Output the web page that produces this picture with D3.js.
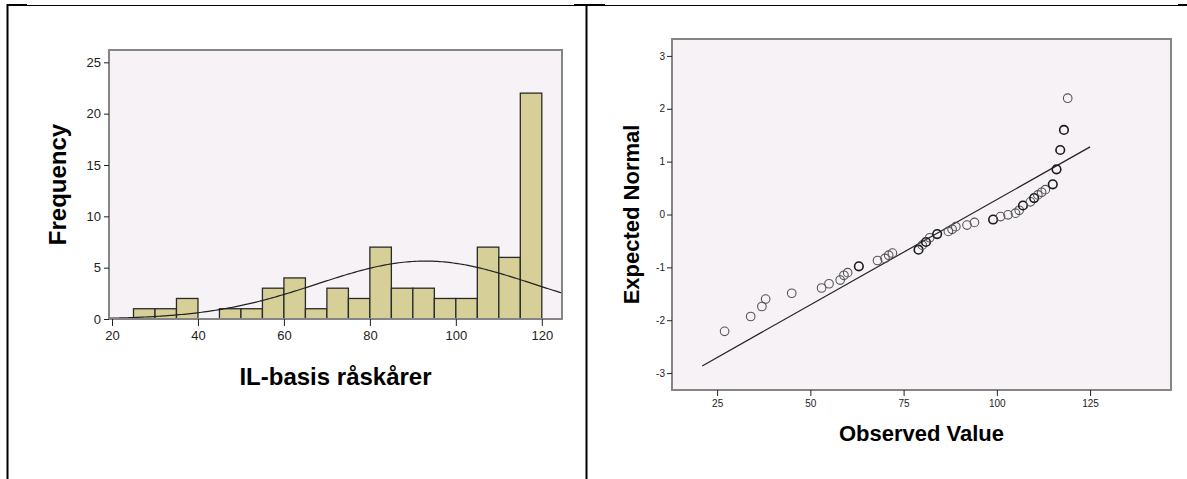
<!DOCTYPE html>
<html>
<head>
<meta charset="utf-8">
<script src="https://cdn.jsdelivr.net/npm/d3@7"></script>
<style>
  body { margin: 0; background: #fff; }
  svg { display: block; font-family: "Liberation Sans", Arial, sans-serif; }
  .tick text { fill: #222; }
  .tick line { stroke: #222; }
</style>
</head>
<body>
<div id="chart"></div>
<script>
// histogram bins (lower edge, width 5) and counts
const binStarts = [25, 30, 35, 40, 45, 50, 55, 60, 65, 70, 75, 80, 85, 90, 95, 100, 105, 110, 115];
const binCounts = [1, 1, 2, 0, 1, 1, 3, 4, 1, 3, 2, 7, 3, 3, 2, 2, 7, 6, 22];
const binWidth = 5;
const histTicksX = [20, 40, 60, 80, 100, 120];
const histTicksY = [0, 5, 10, 15, 20, 25];

// normal fit (mean, sd) used for both the curve and the Q-Q reference line
const fitMean = 92.9;
const fitSd = 25.1;

// Q-Q plot: observed value vs expected normal
const qqObserved = [27, 34, 37, 38, 45, 53, 55, 58, 59, 60, 63, 68, 70, 71, 72, 79, 80, 81, 82, 84,
                    87, 88, 89, 92, 94, 99, 101, 103, 105, 106, 107, 109, 110, 111, 112, 113, 115, 116, 117, 118, 119];
const qqExpected = [-2.21, -1.93, -1.74, -1.60, -1.49, -1.39, -1.31, -1.24, -1.15, -1.10, -0.98, -0.87, -0.83, -0.77, -0.73, -0.665, -0.58, -0.52, -0.44, -0.37,
                    -0.32, -0.28, -0.23, -0.20, -0.15, -0.095, -0.04, -0.006, 0.025, 0.08, 0.17, 0.24, 0.31, 0.37, 0.42, 0.47, 0.57, 0.855, 1.22, 1.60, 2.20];
// values with repeated cases (drawn darker)
const qqRepeated = [63, 79, 81, 84, 99, 107, 110, 115, 116, 117, 118];
const qqLineX = [21, 125];
const qqTicksX = [25, 50, 75, 100, 125];
const qqTicksY = [-3, -2, -1, 0, 1, 2, 3];

const width = 1187, height = 479;
const plotBg = "#f6f2f6";
const barFill = "#d6cf98";
const plainNum = d => String(d);

const svg = d3.select("#chart").append("svg")
    .attr("width", width)
    .attr("height", height);

// table borders
svg.append("line").attr("x1", 27).attr("x2", 1187).attr("y1", 5.5).attr("y2", 5.5)
    .attr("stroke", "#000").attr("stroke-width", 1);
svg.append("line").attr("x1", 7).attr("x2", 27).attr("y1", 5).attr("y2", 5)
    .attr("stroke", "#000").attr("stroke-width", 2);
svg.append("line").attr("x1", 574).attr("x2", 605).attr("y1", 5).attr("y2", 5)
    .attr("stroke", "#000").attr("stroke-width", 2);
svg.append("line").attr("x1", 1178).attr("x2", 1187).attr("y1", 5).attr("y2", 5)
    .attr("stroke", "#000").attr("stroke-width", 2);
svg.append("line").attr("x1", 7.5).attr("x2", 7.5).attr("y1", 4).attr("y2", height)
    .attr("stroke", "#000").attr("stroke-width", 2);
svg.append("line").attr("x1", 586.5).attr("x2", 586.5).attr("y1", 4).attr("y2", height)
    .attr("stroke", "#000").attr("stroke-width", 2);

// ---------- histogram ----------
const xL = d3.scaleLinear().domain([19.3, 124.7]).range([109, 562]);
const yL = d3.scaleLinear().domain([0, 26.2]).range([319, 50]);

const left = svg.append("g");
left.append("rect")
    .attr("x", xL.range()[0]).attr("y", yL.range()[1])
    .attr("width", xL.range()[1] - xL.range()[0])
    .attr("height", yL.range()[0] - yL.range()[1])
    .attr("fill", plotBg);

const bins = binStarts.map((s, i) => ({ x0: s, x1: s + binWidth, n: binCounts[i] }))
    .filter(d => d.n > 0);

left.selectAll(".bar")
    .data(bins)
    .enter().append("rect")
    .attr("class", "bar")
    .attr("x", d => xL(d.x0))
    .attr("y", d => yL(d.n))
    .attr("width", d => xL(d.x1) - xL(d.x0))
    .attr("height", d => yL(0) - yL(d.n))
    .attr("fill", barFill)
    .attr("stroke", "#2a2a2a")
    .attr("stroke-width", 1.3);

// normal curve
const total = d3.sum(binCounts);
const curveXs = d3.range(0, 201).map(i => xL.domain()[0] + i * (xL.domain()[1] - xL.domain()[0]) / 200);
const curveLine = d3.line()
    .x(d => xL(d))
    .y(d => yL(total * binWidth / (fitSd * Math.sqrt(2 * Math.PI)) * Math.exp(-0.5 * ((d - fitMean) / fitSd) ** 2)));
left.append("path")
    .datum(curveXs)
    .attr("d", curveLine)
    .attr("fill", "none")
    .attr("stroke", "#222")
    .attr("stroke-width", 1.2);

left.append("rect")
    .attr("x", xL.range()[0]).attr("y", yL.range()[1])
    .attr("width", xL.range()[1] - xL.range()[0])
    .attr("height", yL.range()[0] - yL.range()[1])
    .attr("fill", "none")
    .attr("stroke", "#858585")
    .attr("stroke-width", 2);

left.append("g")
    .attr("transform", `translate(${xL.range()[0]},0)`)
    .call(d3.axisLeft(yL).tickValues(histTicksY).tickFormat(plainNum).tickSize(5).tickPadding(3).tickSizeOuter(0))
    .call(g => g.select(".domain").remove())
    .call(g => g.selectAll("text").attr("font-size", 13).attr("font-family", "Liberation Sans, Arial"));

left.append("g")
    .attr("transform", `translate(0,${yL.range()[0]})`)
    .call(d3.axisBottom(xL).tickValues(histTicksX).tickFormat(plainNum).tickSize(7).tickPadding(5).tickSizeOuter(0))
    .call(g => g.select(".domain").remove())
    .call(g => g.selectAll("text").attr("font-size", 13).attr("font-family", "Liberation Sans, Arial"));

left.append("text")
    .attr("x", (xL.range()[0] + xL.range()[1]) / 2)
    .attr("y", 385)
    .attr("text-anchor", "middle")
    .attr("font-size", 24)
    .attr("font-weight", "bold")
    .text("IL-basis råskårer");

left.append("text")
    .attr("transform", `translate(66,${(yL.range()[0] + yL.range()[1]) / 2}) rotate(-90)`)
    .attr("text-anchor", "middle")
    .attr("font-size", 24)
    .attr("font-weight", "bold")
    .text("Frequency");

// ---------- Q-Q plot ----------
const xR = d3.scaleLinear().domain([12.9, 146.7]).range([672, 1171]);
const yR = d3.scaleLinear().domain([-3.32, 3.32]).range([390, 39]);

const right = svg.append("g");
right.append("rect")
    .attr("x", xR.range()[0]).attr("y", yR.range()[1])
    .attr("width", xR.range()[1] - xR.range()[0])
    .attr("height", yR.range()[0] - yR.range()[1])
    .attr("fill", plotBg)
    .attr("stroke", "#858585")
    .attr("stroke-width", 2);

right.append("line")
    .attr("x1", xR(qqLineX[0]))
    .attr("y1", yR((qqLineX[0] - fitMean) / fitSd))
    .attr("x2", xR(qqLineX[1]))
    .attr("y2", yR((qqLineX[1] - fitMean) / fitSd))
    .attr("stroke", "#222")
    .attr("stroke-width", 1.2);

const pts = qqObserved.map((v, i) => ({ x: v, y: qqExpected[i], rep: qqRepeated.includes(v) }));
right.selectAll(".pt")
    .data(pts)
    .enter().append("circle")
    .attr("class", "pt")
    .attr("cx", d => xR(d.x))
    .attr("cy", d => yR(d.y))
    .attr("r", 4.3)
    .attr("fill", "none")
    .attr("stroke", d => d.rep ? "#1a1a1a" : "#555")
    .attr("stroke-width", d => d.rep ? 1.6 : 1.1);

right.append("g")
    .attr("transform", `translate(${xR.range()[0]},0)`)
    .call(d3.axisLeft(yR).tickValues(qqTicksY).tickFormat(plainNum).tickSize(5).tickPadding(2).tickSizeOuter(0))
    .call(g => g.select(".domain").remove())
    .call(g => g.selectAll("text").attr("font-size", 10).attr("font-family", "Liberation Sans, Arial"));

right.append("g")
    .attr("transform", `translate(0,${yR.range()[0]})`)
    .call(d3.axisBottom(xR).tickValues(qqTicksX).tickFormat(plainNum).tickSize(6).tickPadding(4).tickSizeOuter(0))
    .call(g => g.select(".domain").remove())
    .call(g => g.selectAll("text").attr("font-size", 10).attr("font-family", "Liberation Sans, Arial"));

right.append("text")
    .attr("x", (xR.range()[0] + xR.range()[1]) / 2)
    .attr("y", 441)
    .attr("text-anchor", "middle")
    .attr("font-size", 22)
    .attr("font-weight", "bold")
    .text("Observed Value");

right.append("text")
    .attr("transform", `translate(639,${(yR.range()[0] + yR.range()[1]) / 2}) rotate(-90)`)
    .attr("text-anchor", "middle")
    .attr("font-size", 22)
    .attr("font-weight", "bold")
    .text("Expected Normal");
</script>
</body>
</html>
